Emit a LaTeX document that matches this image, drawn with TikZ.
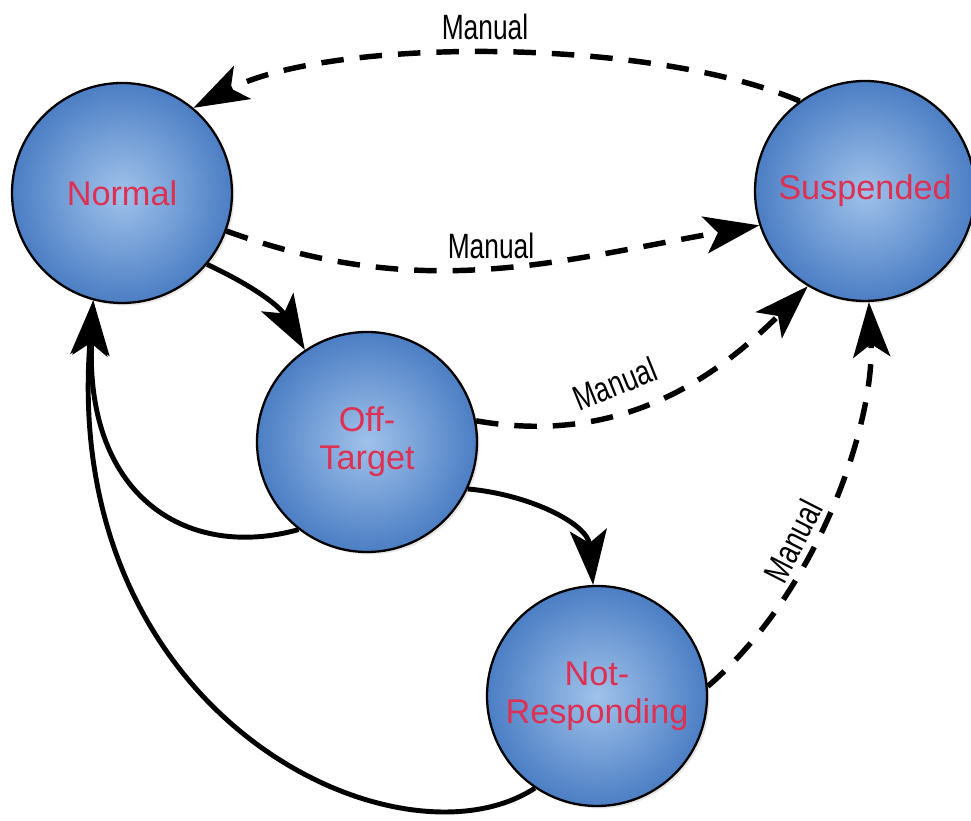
\documentclass[tikz,border=0pt]{standalone}
\usepackage{fontspec}
\setmainfont{Liberation Sans}
\usepackage{graphicx}
\usetikzlibrary{arrows.meta, shadows}

\definecolor{stateRed}{RGB}{222,48,82}
\definecolor{ballIn}{RGB}{160,194,234}
\definecolor{ballOut}{RGB}{76,126,196}

\begin{document}
\begin{tikzpicture}[>={Stealth[length=1.1cm,width=0.74cm,inset=0.26cm]},
	statenode/.style={circle, draw=black, line width=1.3pt, minimum size=4.4cm,
		inner color=ballIn, outer color=ballOut, text=stateRed, align=center,
		font=\fontsize{19.5}{21.5}\selectfont,
		drop shadow={opacity=0.2, shadow xshift=0.05cm, shadow yshift=-0.05cm}},
	trans/.style={->, line width=2.8pt},
	manual/.style={trans, line width=3.1pt, dash pattern=on 0.45cm off 0.32cm},
	lbl/.style={font=\fontsize{20}{24}\selectfont, inner sep=0pt}]
	
	\useasboundingbox (0,0) rectangle (19.42,16.42);
	
	% --- Estados
	\node[statenode] (norm) at (2.44,12.56) {Normal};
	\node[statenode] (susp) at (17.30,12.60) {Suspended};
	\node[statenode] (off) at (7.34,7.58) {Off-\\Target};
	\node[statenode] (nr) at (11.94,2.50) {Not-\\Responding};
	
	% --- Transicoes manuais (tracejadas)
	\draw[manual] (susp.126) .. controls (13.0,15.68) and (6.6,15.68) .. (norm.50);
	\draw[manual] (norm.-20) to[out=-20,in=190] (susp.198);
	\draw[manual] (off.11) to[out=-10,in=225] (susp.239);
	\draw[manual] (nr.5) .. controls (16.4,4.62) and (17.5,8.02) .. (susp.-88);
	
	% --- Transicoes automaticas
	\draw[trans] (norm.-40) to[out=-25,in=120] (off.124);
	\draw[trans] (off.-25) to[out=-5,in=95] (nr.92);
	\draw[trans] (off.232) .. controls (3.8,5.22) and (1.7,6.42) .. (norm.255);
	\draw[trans] (nr.236) .. controls (8.0,-1.1) and (1.2,2.02) .. (norm.255);
	
	% --- Rotulos
	\node[lbl] (mTop) at (9.7,15.88) {\scalebox{0.75}[1]{Manual}};
	\node[lbl] (mMid) at (9.82,11.5) {\scalebox{0.75}[1]{Manual}};
	\node[lbl, rotate=22] (mOff) at (12.3,8.75) {\scalebox{0.75}[1]{Manual}};
	\node[lbl, rotate=63] (mNr) at (15.86,5.6) {\scalebox{0.75}[1]{Manual}};
	
\end{tikzpicture}
\end{document}
